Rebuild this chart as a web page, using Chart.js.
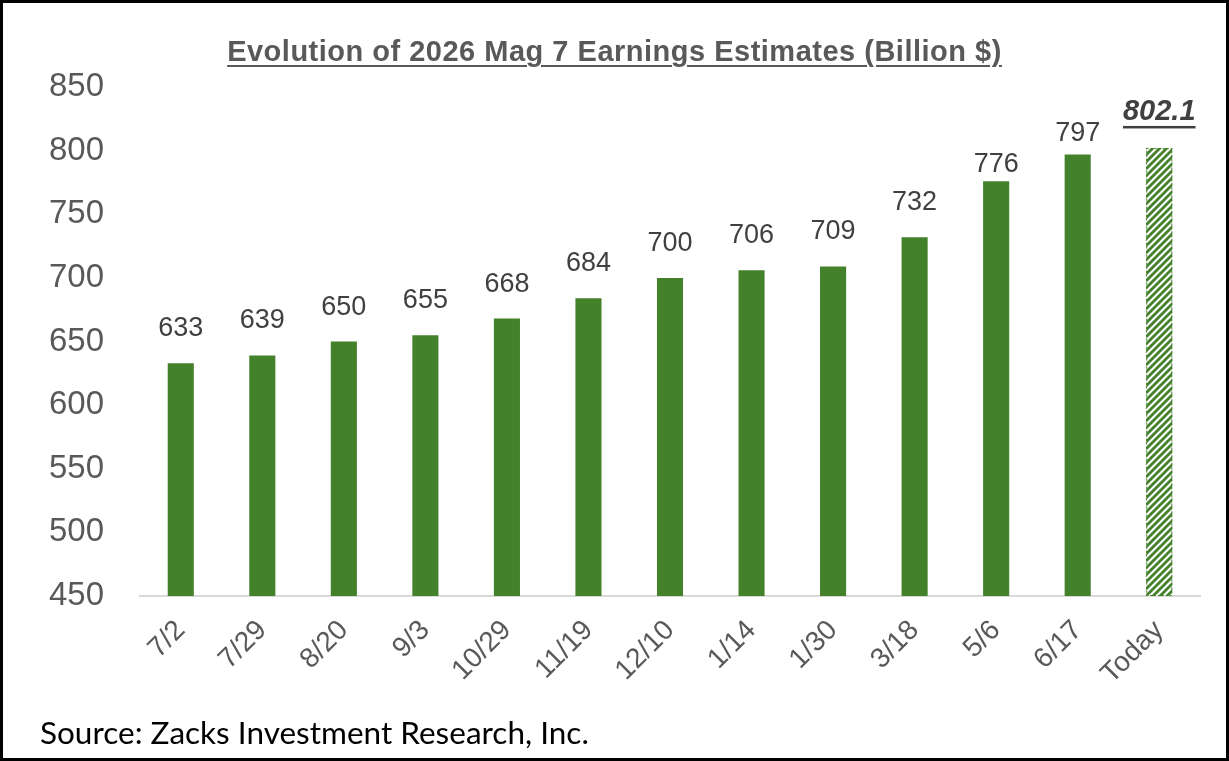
<!DOCTYPE html>
<html>
<head>
<meta charset="utf-8">
<script src="https://cdn.jsdelivr.net/npm/chart.js@4"></script>
<style>
    body { margin: 0; background: #fff; }
    #frame {
        position: relative;
        width: 1229px;
        height: 761px;
        border: 3px solid #000;
        box-sizing: border-box;
        background: #fff;
    }
    #title {
        position: absolute;
        left: 0; right: 0; top: 32px;
        text-align: center;
        font: bold 29px "Liberation Sans", Arial, sans-serif;
        letter-spacing: 0.5px;
        color: #595959;
        text-decoration: underline;
        text-underline-offset: 4px;
        text-decoration-thickness: 2px;
    }
    #source {
        position: absolute;
        left: 37px; top: 710px;
        font: 31.5px Lato, "Noto Sans", sans-serif;
        color: #000;
    }
    #box { position: absolute; left: 0; top: 0; width: 1223px; height: 755px; }
</style>
</head>
<body>
<div id="frame">
    <div id="box"><canvas id="estimates-chart"></canvas></div>
    <div id="title">Evolution of 2026 Mag 7 Earnings Estimates (Billion $)</div>
    <div id="source">Source: Zacks Investment Research, Inc.</div>
</div>
<script>
/**
 * Mag 7 earnings estimate revisions
 */
const dates = ['7/2', '7/29', '8/20', '9/3', '10/29', '11/19', '12/10', '1/14', '1/30', '3/18', '5/6', '6/17', 'Today'];
const estimates = [633, 639, 650, 655, 668, 684, 700, 706, 709, 732, 776, 797, 802.1];
const yTicks = [450, 500, 550, 600, 650, 700, 750, 800, 850];

const barGreen = '#43812a';
const textGray = '#595959';

// hatched fill for the "Today" bar
function makeHatch() {
    const c = document.createElement('canvas');
    c.width = 7;
    c.height = 7;
    const g = c.getContext('2d');
    g.fillStyle = '#fff';
    g.fillRect(0, 0, 7, 7);
    g.strokeStyle = barGreen;
    g.lineWidth = 2.8;
    g.beginPath();
    g.moveTo(-1, 8); g.lineTo(8, -1);
    g.moveTo(-8, 8); g.lineTo(1, -1);
    g.moveTo(6, 8); g.lineTo(15, -1);
    g.stroke();
    return g.createPattern(c, 'repeat');
}

const ctx = document.getElementById('estimates-chart').getContext('2d');
const hatch = makeHatch();
const lastIdx = estimates.length - 1;

new Chart(ctx, {
    type: 'bar',
    data: {
        labels: dates,
        datasets: [{
            data: estimates,
            backgroundColor: estimates.map((v, i) => i === lastIdx ? hatch : barGreen),
            borderWidth: 0,
            categoryPercentage: 1,
            barPercentage: 0.32
        }]
    },
    options: {
        responsive: true,
        maintainAspectRatio: false,
        animation: false,
        layout: {
            padding: { top: 84, left: 27, right: 26, bottom: 62 }
        },
        plugins: {
            legend: { display: false },
            tooltip: { enabled: false }
        },
        scales: {
            x: {
                grid: { display: false },
                border: { display: true, color: '#d9d9d9', width: 2 },
                ticks: {
                    color: textGray,
                    font: { family: 'Liberation Sans', size: 28 },
                    minRotation: 45,
                    maxRotation: 45,
                    padding: 10
                },
                afterFit: function(scale) { scale.height = 100; }
            },
            y: {
                min: 450,
                max: 850,
                afterBuildTicks: function(scale) {
                    scale.ticks = yTicks.map(v => ({ value: v }));
                },
                grid: { display: false },
                border: { display: false },
                ticks: {
                    color: textGray,
                    font: { family: 'Liberation Sans', size: 33 },
                    padding: 28
                },
                afterFit: function(scale) { scale.width = 110; }
            }
        }
    },
    plugins: [{
        // value labels above each bar
        id: 'barValues',
        afterDatasetsDraw: function(chart) {
            const c = chart.ctx;
            const meta = chart.getDatasetMeta(0);
            const bottom = chart.chartArea.bottom;
            // the last two regular labels sit closer to their bars
            const gapOverride = { 10: 9, 11: 13 };
            c.save();
            c.textAlign = 'center';
            c.textBaseline = 'alphabetic';
            meta.data.forEach(function(bar, i) {
                const v = estimates[i];
                if (i === lastIdx) {
                    // dotted outline for the hatched bar
                    c.strokeStyle = barGreen;
                    c.lineWidth = 1;
                    c.setLineDash([2, 2]);
                    c.strokeRect(bar.x - bar.width / 2 + 0.5, bar.y + 0.5, bar.width - 1, bottom - bar.y - 1);
                    c.setLineDash([]);

                    const txt = v.toFixed(1);
                    c.font = 'italic bold 29px "Liberation Sans"';
                    c.fillStyle = '#404040';
                    c.fillText(txt, bar.x, bar.y - 28);
                    const w = c.measureText(txt).width;
                    c.fillRect(bar.x - w / 2, bar.y - 22, w, 2.5);
                } else {
                    const gap = gapOverride[i] !== undefined ? gapOverride[i] : 27;
                    c.font = '27px "Liberation Sans"';
                    c.fillStyle = '#404040';
                    c.fillText(String(v), bar.x, bar.y - gap);
                }
            });
            c.restore();
        }
    }]
});
</script>
</body>
</html>
